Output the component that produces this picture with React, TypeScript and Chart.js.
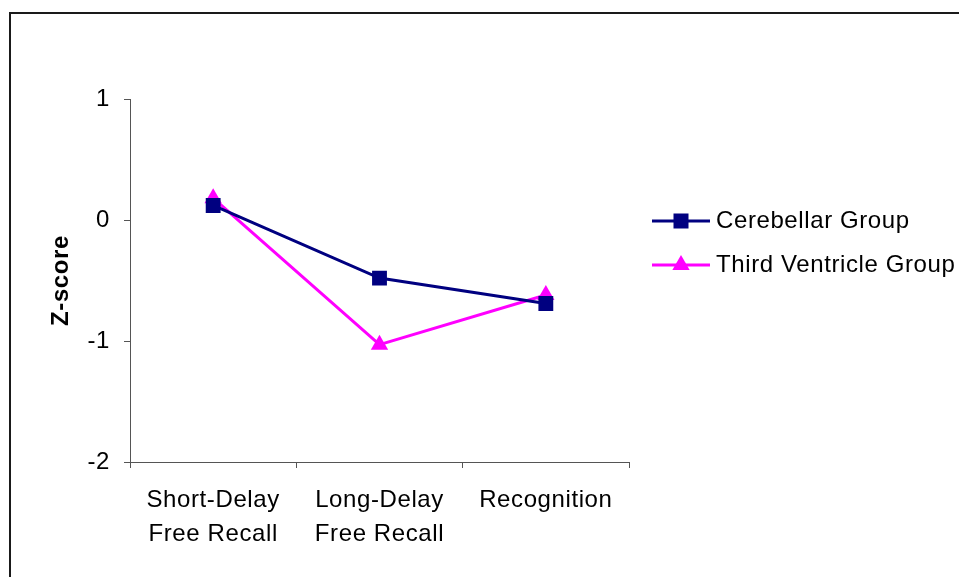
import React, { useEffect, useRef } from "react";
import { Chart, registerables } from "chart.js";

Chart.register(...registerables);

const categories: string[][] = [
  ["Short-Delay", "Free Recall"],
  ["Long-Delay", "Free Recall"],
  ["Recognition"],
];
const cerebellar: number[] = [0.12, -0.48, -0.69];
const thirdVentricle: number[] = [0.18, -1.03, -0.62];
const seriesNames: string[] = ["Cerebellar Group", "Third Ventricle Group"];
const yTicks: number[] = [-2, -1, 0, 1];

const FONT = "'Liberation Sans', Arial, sans-serif";
const SPACING = "0.6px";

const framePlugin = {
  id: "frame",
  beforeDraw(chart: any) {
    const ctx = chart.ctx;
    ctx.save();
    ctx.fillStyle = "#ffffff";
    ctx.fillRect(0, 0, chart.width, chart.height);
    ctx.strokeStyle = "#1a1a1a";
    ctx.lineWidth = 2;
    ctx.beginPath();
    ctx.moveTo(10, chart.height + 5);
    ctx.lineTo(10, 13);
    ctx.lineTo(chart.width + 5, 13);
    ctx.stroke();
    ctx.restore();
    ctx.letterSpacing = SPACING;
  },
};

const legendPlugin = {
  id: "customLegend",
  afterDraw(chart: any) {
    const ctx = chart.ctx;
    ctx.save();
    ctx.letterSpacing = SPACING;
    const rows = [221, 265];
    chart.data.datasets.forEach((ds: any, i: number) => {
      const y = rows[i];
      ctx.strokeStyle = ds.borderColor;
      ctx.lineWidth = 3;
      ctx.beginPath();
      ctx.moveTo(652, y);
      ctx.lineTo(710, y);
      ctx.stroke();
      ctx.fillStyle = ds.backgroundColor;
      const cx = 681;
      if (ds.pointStyle === "rect") {
        ctx.fillRect(cx - 7.5, y - 7.5, 15, 15);
      } else {
        const r = 10;
        ctx.beginPath();
        ctx.moveTo(cx, y - r);
        ctx.lineTo(cx + r * 0.866, y + r * 0.5);
        ctx.lineTo(cx - r * 0.866, y + r * 0.5);
        ctx.closePath();
        ctx.fill();
      }
      ctx.fillStyle = "#000";
      ctx.font = `24px ${FONT}`;
      ctx.textBaseline = "middle";
      ctx.textAlign = "left";
      ctx.fillText(ds.label, 716, y);
    });
    ctx.restore();
  },
};

export default function App() {
  const ref = useRef<HTMLCanvasElement | null>(null);
  useEffect(() => {
    document.body.style.margin = "0";
    const chart = new Chart(ref.current as HTMLCanvasElement, {
      type: "line",
      data: {
        labels: categories as any,
        datasets: [
          {
            label: seriesNames[0],
            data: cerebellar,
            borderColor: "#000080",
            backgroundColor: "#000080",
            borderWidth: 3,
            pointStyle: "rect",
            pointRadius: 10.5,
            pointHoverRadius: 10.5,
            pointBorderWidth: 0,
            tension: 0,
          },
          {
            label: seriesNames[1],
            data: thirdVentricle,
            borderColor: "#FF00FF",
            backgroundColor: "#FF00FF",
            borderWidth: 3,
            pointStyle: "triangle",
            pointRadius: 10,
            pointHoverRadius: 10,
            pointBorderWidth: 0,
            tension: 0,
          },
        ],
      },
      options: {
        animation: false,
        responsive: false,
        maintainAspectRatio: false,
        events: [],
        layout: { padding: { left: 0, top: 99, right: 330, bottom: 0 } },
        plugins: {
          legend: { display: false },
          tooltip: { enabled: false },
          title: { display: false },
        },
        scales: {
          x: {
            type: "category",
            offset: true,
            grid: {
              offset: true,
              drawOnChartArea: false,
              drawTicks: true,
              tickLength: 6,
              color: "#555",
              lineWidth: 1,
            },
            border: { display: true, color: "#555", width: 1 },
            ticks: {
              color: "#000",
              font: { family: FONT, size: 24, lineHeight: 1.42 },
              padding: 15,
              maxRotation: 0,
              autoSkip: false,
            },
            afterFit(scale: any) {
              scale.height = 115;
            },
          },
          y: {
            type: "linear",
            min: -2,
            max: 1,
            afterBuildTicks(scale: any) {
              scale.ticks = yTicks.map((v) => ({ value: v }));
            },
            grid: {
              drawOnChartArea: false,
              drawTicks: true,
              tickLength: 6,
              color: "#555",
            },
            border: { display: true, color: "#555", width: 1 },
            ticks: {
              color: "#000",
              font: { family: FONT, size: 24 },
              padding: 14,
            },
            title: {
              display: true,
              text: "Z-score",
              color: "#000",
              font: { family: FONT, size: 24, weight: "bold", lineHeight: 1.2 },
              padding: { top: 47, bottom: 0 },
            },
            afterFit(scale: any) {
              scale.width = 130;
            },
          },
        },
      },
      plugins: [framePlugin, legendPlugin],
    } as any);
    return () => chart.destroy();
  }, []);
  return (
    <div style={{ position: "absolute", left: 0, top: 0, width: 959, height: 577 }}>
      <canvas ref={ref} width={959} height={577} style={{ width: 959, height: 577 }} />
    </div>
  );
}
